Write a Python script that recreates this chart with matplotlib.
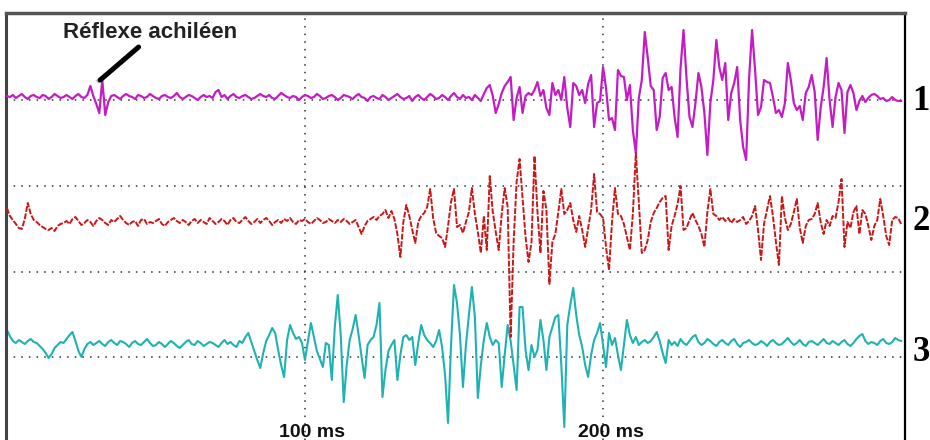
# -*- coding: utf-8 -*-

"""Three EMG traces around the Achilles reflex, redrawn with matplotlib."""

import matplotlib.pyplot as plt
import numpy as np

# values, one sample per ms, deflection up from each baseline
emg_1 = [
    2, 1, 3, 0, 2, 4, 1, -1, 2, 3,
    1, 0, 3, 2, -1, 1, 4, 2, 0, 1,
    3, 1, -1, 2, 4, 1, 0, 3, 12, 2,
    -6, -15, 18, -17, -4, 2, 3, 1, -1, 2,
    4, 2, 1, -1, 3, 2, 0, 1, 4, 2,
    0, -1, 2, 3, 1, 0, 2, 5, 1, -1,
    1, 3, 2, 0, -2, 1, 3, 1, 2, 0,
    6, 8, 1, 3, -1, 2, 4, 1, 0, 2,
    3, 1, -1, 0, 2, 4, 2, 1, 3, 0,
    -1, 2, 5, 3, 1, 0, 2, 1, -2, 1,
    3, 2, 0, 1, 4, 2, -1, 0, 2, 3,
    1, -2, 0, 3, 2, 1, -1, 2, 4, 1,
    0, -3, 1, 2, 0, -1, 3, 1, -2, 0,
    2, 4, 1, -1, 0, 2, -3, 1, 3, 0,
    -2, 1, 4, 2, -1, 0, 3, 1, -2, 2,
    5, 1, -1, 3, 0, 1, -2, 3, 0, -3,
    4, 10, 13, 2, -15, -6, 5, 12, 16, 21,
    -22, 0, 11, -15, 2, 5, 3, 8, 16, 2,
    8, -10, -17, 15, 3, 8, -2, 21, -10, -29,
    15, 12, 3, 8, -5, 14, 23, -29, -5, -3,
    31, 10, -22, -20, -32, 28, 22, 21, -2, 13,
    -32, -55, 0, 18, 66, 40, 12, 8, -32, -19,
    20, 25, 8, 11, -19, -39, 30, 68, 20, -19,
    -29, -5, 25, 11, -15, -57, -5, 18, 58, 31,
    18, 35, -22, 5, 15, 31, -22, -49, -62, 20,
    68, 28, -17, -9, 18, 16, 15, 1, -15, -12,
    -19, -5, 35, 18, -5, -12, -8, -22, 5, 11,
    23, 6, -42, -10, 11, 40, -2, -29, 1, 15,
    8, -35, 6, 13, 5, -12, -3, 2, -4, 0,
    3, 4, 2, -1, 0, -3, -2, 1, -2, -3,
    -3,
]

emg_2 = [
    14, 6, 2, -2, -6, -7, 3, 19, 8, 2,
    0, -3, -5, -7, -8, -6, -9, -4, -2, -1,
    1, -2, 3, 5, 1, -3, -1, 2, 0, -4,
    1, 4, 2, -1, -3, 2, 0, 3, 6, 2,
    -1, -3, 0, 1, -4, 2, 3, -2, 0, -1,
    1, 3, -2, -4, 0, 2, 4, 1, -1, 2,
    0, -3, 1, 3, -1, 2, 0, -2, 4, 1,
    -2, 0, 3, 1, -3, 2, 4, 0, -1, 2,
    5, 1, -2, 0, 3, -1, 2, 4, 1, -3,
    0, 2, -1, 3, 1, 4, 0, -2, 2, 1,
    3, 0, -2, 1, 4, 2, -1, 0, 3, 1,
    -1, 2, 0, 3, 1, -2, 0, 2, -5, -12,
    -4, 1, 3, 5, 2, 6, 8, 12, 4, 11,
    3, -12, -35, 0, 17, 6, -8, -21, 0, 6,
    9, 15, 33, 4, -11, -14, -16, -25, -4, 20,
    33, -5, -3, -11, 0, 10, 34, 8, -10, -31,
    6, -28, 46, 10, -10, -28, 8, 34, 15, -115,
    -20, 40, 63, 24, -15, -40, -20, 66, 10, -31,
    31, 12, -62, -20, -12, 10, 33, 8, 12, 19,
    2, -10, 6, -8, -25, -6, 12, 48, 10, 8,
    4, -25, -48, 0, 34, 8, 6, -2, -15, -28,
    8, 69, 20, -31, -28, -18, 0, 9, 14, 20,
    24, 26, -28, -4, 6, 18, 36, -8, -6, 2,
    9, 2, -4, -12, -25, 10, 33, 8, 6, 2,
    5, 1, 4, -1, 3, 0, 2, 5, -2, 1,
    6, 16, -8, -38, -2, 12, 26, 6, -20, -43,
    26, 4, -8, -2, 10, 23, -6, -21, -4, 2,
    3, 8, 19, 0, -12, 2, -4, 6, 4, 20,
    43, -25, 0, -6, 10, 16, -12, 12, 8, -4,
    -18, -4, 2, 23, 6, -14, -23, 2, 5, 4,
    -2,
]

emg_3 = [
    15, 9, 4, 2, 5, 3, 1, 4, 6, 3,
    2, -1, -4, -8, -13, -9, -3, 0, 3, 2,
    6, 10, 13, 4, -6, -12, -4, 1, 3, 0,
    2, 4, 1, -1, 3, 5, 2, 0, 4, 3,
    1, -2, 2, 4, 1, 0, 3, 6, 2, -1,
    0, 3, 1, -2, 1, 4, 2, -1, -3, 0,
    3, 5, 1, 0, 4, 2, -1, 1, 3, 2,
    0, -2, 2, 5, 1, 3, 0, -2, 4, 2,
    8, 12, 3, -6, -15, -23, -8, 4, 10, 17,
    12, -5, -20, -32, 5, 20, 12, 6, 8, 2,
    -15, 4, 22, 8, -6, -14, -22, 2, 0, -35,
    18, 50, 10, -57, -20, 5, 16, 30, 10, -12,
    -33, 0, 5, 8, 20, 42, -52, -25, -6, 0,
    5, -35, -10, 8, 10, 5, 8, -20, 2, 20,
    10, 5, 2, -2, 4, 15, -2, -30, -78, 0,
    60, 42, 10, -42, 0, 30, 58, 28, -53, -20,
    5, 22, 8, 0, 5, 2, -42, -10, 20, 4,
    -20, -45, 38, 38, -5, -25, 0, -12, -5, 25,
    5, -25, 8, 18, 28, 30, -20, -82, 20, 40,
    57, 30, 10, -2, -20, -32, -10, 5, 12, 22,
    0, -22, 12, 0, 7, -10, -25, 0, 25, 10,
    2, 8, 0, 3, 5, 2, 4, 8, 13, 4,
    -8, -18, 5, 0, 3, -1, 6, 2, 0, 4,
    8, 10, 3, 0, 2, 6, 4, 1, -1, 3,
    5, 2, 0, 4, 6, 1, -2, 2, 3, 5,
    2, 0, 1, 4, 2, -1, 3, 5, 2, 0,
    1, 4, 7, 3, 0, 2, 5, 1, -1, 3,
    4, 2, 0, 3, 6, 2, 1, 4, 2, 0,
    3, 5, 1, -1, 2, 6, 9, 11, 4, 1,
    3, 2, 0, 4, 6, 2, 1, 3, 7, 5,
    4,
]

trace_names = ['1', '2', '3']
time_labels = ['100 ms', '200 ms']
time_marks = [100, 200]
annotation = 'Réflexe achiléen'

# layout (vertical units are screen pixels counted from the bottom)
baselines = [342, 218, 95]
grid_levels = [340, 254, 168, 83]
colors = ['#c41cc4', '#c81818', '#1fb2b2']

time = np.arange(len(emg_1))

fig = plt.figure(figsize=(9.3, 4.4), dpi=100)
ax = fig.add_axes([6 / 930, 0, 899 / 930, 427 / 440])
ax.set_xlim(-0.3, 301.3)
ax.set_ylim(0, 427)
ax.set_xticks([])
ax.set_yticks([])

# dotted grid
for t in time_marks:
    ax.axvline(t, color='#333333', lw=1.1, ls=(0, (1, 4)), zorder=1)
for level in grid_levels:
    ax.axhline(level, color='#333333', lw=1.1, ls=(0, (1, 4)), zorder=1)

# traces
ax.plot(time, baselines[2] + np.array(emg_3), color=colors[2], lw=1.5, zorder=2)
ax.plot(time, baselines[0] + np.array(emg_1), color=colors[0], lw=1.6, zorder=3)
ax.plot(time, baselines[1] + np.array(emg_2), color=colors[1], lw=1.4,
        ls=(0, (3, 0.8)), zorder=4)

# frame
ax.spines['bottom'].set_visible(False)
ax.spines['left'].set_color('#444444')
ax.spines['left'].set_linewidth(2.2)
ax.spines['top'].set_color('#555555')
ax.spines['top'].set_linewidth(2.5)
ax.spines['right'].set_color('black')
ax.spines['right'].set_linewidth(1.6)

# reflex annotation
ax.annotate('', xy=(31.3, 360), xytext=(44.2, 393),
            arrowprops=dict(arrowstyle='-', lw=3.6, color='black',
                            shrinkA=0, shrinkB=0))
ax.plot([30.2, 31.4], [358, 360.5], color='#bbbbbb', lw=3, solid_capstyle='butt')
ax.text(18.8, 407, annotation, ha='left', va='center', fontsize=16,
        fontweight='bold', family='Liberation Sans', color='#222222')

# time labels
for t, label in zip(time_marks, time_labels):
    ax.text(t + 2.5, 3, label, ha='center', va='baseline', fontsize=14,
            fontweight='bold', family='Liberation Sans', color='#111111')

# trace numbers
for name, base in zip(trace_names, [339, 218, 88]):
    ax.text(303.8, base, name, ha='left', va='center', fontsize=25,
            fontweight='bold', family='Liberation Serif', color='black',
            clip_on=False)

fig.savefig('out.png', dpi=100)
